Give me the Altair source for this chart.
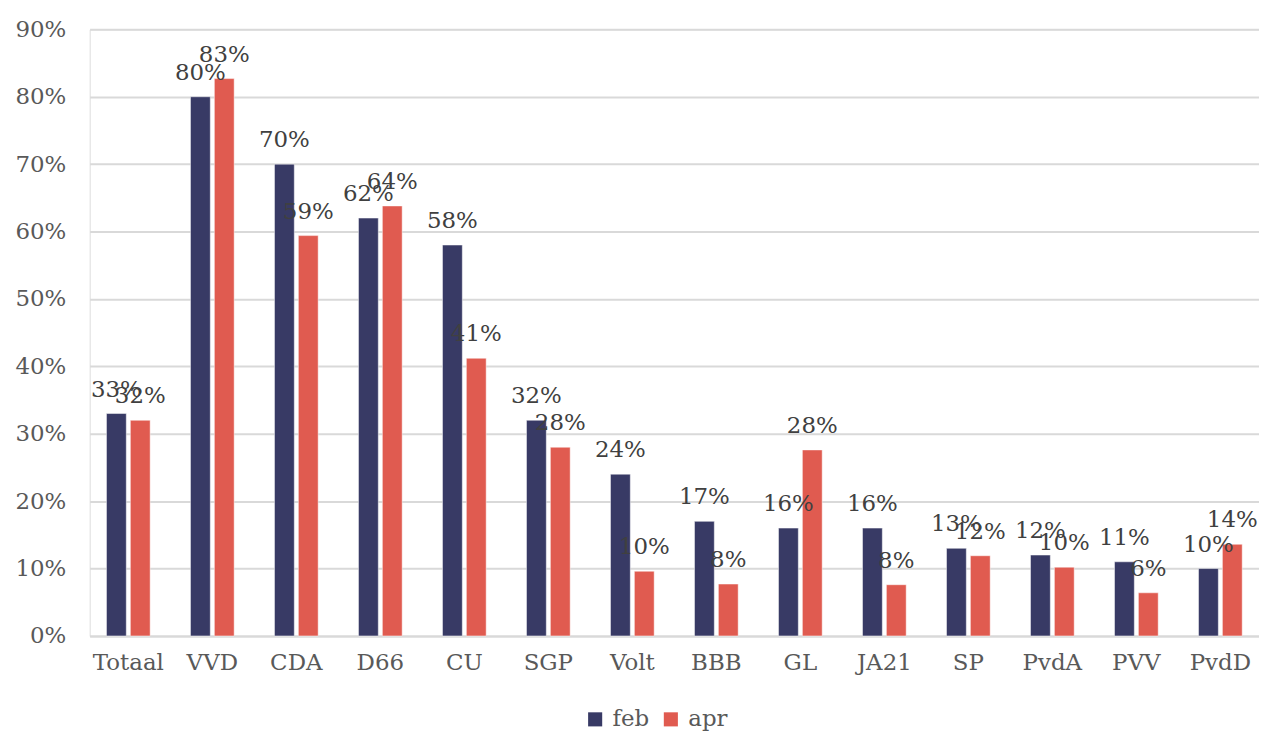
import altair as alt
import pandas as pd

categories = ["Totaal", "VVD", "CDA", "D66", "CU", "SGP", "Volt", "BBB", "GL", "JA21", "SP", "PvdA", "PVV", "PvdD"]
feb = [33, 80, 70, 62, 58, 32, 24, 17, 16, 16, 13, 12, 11, 10]
apr = [32, 82.7, 59.4, 63.8, 41.2, 28, 9.6, 7.7, 27.6, 7.6, 11.9, 10.2, 6.4, 13.6]
series = ["feb", "apr"]
colors = ["#383a65", "#e05b50"]

rows = []
for i, c in enumerate(categories):
    rows.append({"cat": c, "serie": "feb", "value": feb[i]})
    rows.append({"cat": c, "serie": "apr", "value": apr[i]})
df = pd.DataFrame(rows)

FONT = "DejaVu Serif"
FS = 23

base = alt.Chart(df).encode(
    x=alt.X("cat:N", sort=categories, title=None,
            scale=alt.Scale(paddingInner=0.48),
            axis=alt.Axis(labelAngle=0, labelFont=FONT, labelFontSize=FS, labelColor="#595959",
                          labelPadding=16, ticks=False, domainColor="#d9d9d9", domainWidth=2,
                          grid=False)),
    xOffset=alt.XOffset("serie:N", sort=series, scale=alt.Scale(paddingInner=0.17, paddingOuter=0)),
)

bars = base.mark_bar(stroke="white", strokeWidth=0.8, strokeOpacity=0.6).encode(
    y=alt.Y("value:Q", title=None,
            scale=alt.Scale(domain=[0, 90], nice=False),
            axis=alt.Axis(values=list(range(0, 91, 10)), labelExpr="datum.value + '%'",
                          labelFont=FONT, labelFontSize=FS, labelColor="#595959",
                          labelPadding=24, ticks=False, domain=False,
                          minExtent=78, maxExtent=78,
                          gridColor="#d9d9d9", gridWidth=2)),
    color=alt.Color("serie:N", sort=series, scale=alt.Scale(domain=series, range=colors),
                    legend=alt.Legend(title=None, orient="none", direction="horizontal",
                                      legendX=496, legendY=681,
                                      labelFont=FONT, labelFontSize=FS, labelColor="#595959",
                                      symbolType="square", symbolSize=200, symbolStrokeWidth=0,
                                      labelOffset=6, columnPadding=10)),
)

labels = base.transform_calculate(
    label="format(datum.value, '.0f') + '%'"
).mark_text(font=FONT, fontSize=FS, color="#404040", baseline="alphabetic", dy=-17).encode(
    y=alt.Y("value:Q"),
    text=alt.Text("label:N"),
)

chart = alt.layer(bars, labels).properties(
    width=1174, height=609, padding={"left": 4, "top": 9, "right": 0, "bottom": 0}
).configure_view(stroke=None).configure(background="white")

chart.save("out.html", embed_options={"renderer": "svg", "actions": False})
